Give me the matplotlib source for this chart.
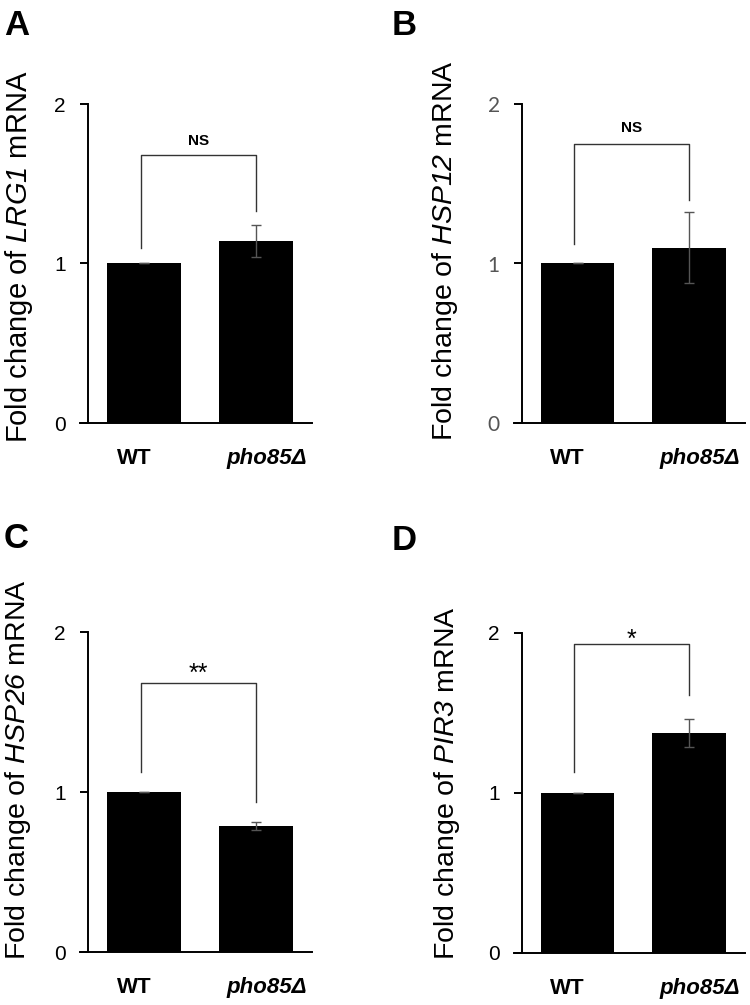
import matplotlib
matplotlib.use("Agg")
import matplotlib.pyplot as plt
import matplotlib.transforms as mtransforms

plt.rcParams['font.family'] = ['Liberation Sans', 'DejaVu Sans']
plt.rcParams['mathtext.fontset'] = 'custom'
plt.rcParams['mathtext.rm'] = 'Liberation Sans:italic'
plt.rcParams['mathtext.it'] = 'Liberation Sans:italic'
plt.rcParams['mathtext.bf'] = 'Liberation Sans:bold'

# ---- data ----
categories = ['WT', 'pho85Δ']
panel_letters = ['A', 'B', 'C', 'D']
genes = ['LRG1', 'HSP12', 'HSP26', 'PIR3']
wt_values = [1.0, 1.0, 1.0, 1.0]
wt_errors = [0.0, 0.0, 0.0, 0.0]
mut_values = [1.14, 1.10, 0.79, 1.375]
mut_errors = [0.10, 0.225, 0.025, 0.085]
signif_labels = ['NS', 'NS', '**', '*']
bracket_heights = [1.68, 1.75, 1.68, 1.93]
bracket_wt_bottom = [1.10, 1.125, 1.125, 1.13]
bracket_mut_bottom = [1.33, 1.40, 0.94, 1.61]
signif_y = [1.77, 1.85, 1.74, 1.96]
yticks = [0, 1, 2]
ytick_labels = ['0', '1', '2']

W, H = 750, 1005
fig = plt.figure(figsize=(W / 100, H / 100), dpi=100)

# axes boxes in pixels: left, top, right, bottom
boxes = [(80, 104, 312, 423), (514, 104, 745, 423),
         (80, 632, 312, 952), (514, 633, 745, 953)]
letter_pos = [(4, 9), (392, 9), (4, 522), (392, 524)]
label_x = [-0.196, -0.233, -0.202, -0.225]
label_y = [0.52, 0.54, 0.57, 0.53]
label_size = [21, 20.5, 20.5, 20.5]

for i in range(4):
    l, t, r, b = boxes[i]
    ax = fig.add_axes([l / W, 1 - b / H, (r - l) / W, (b - t) / H])
    x = [0, 1]
    vals = [wt_values[i], mut_values[i]]
    errs = [wt_errors[i], mut_errors[i]]
    ax.bar(x, vals, width=0.66, color='black', zorder=2)
    ax.errorbar(x, vals, yerr=errs, fmt='none', ecolor='#555555',
                elinewidth=1.0, capsize=3.8, capthick=1.0, zorder=3)
    ax.set_xlim(-0.571, 1.5)
    ax.set_ylim(0, 2)
    for s in ['top', 'right']:
        ax.spines[s].set_visible(False)
    ax.spines['left'].set_position(('data', -0.5))
    ax.spines['left'].set_linewidth(1.4)
    ax.spines['bottom'].set_linewidth(1.4)
    ax.set_yticks(yticks)
    ax.set_yticklabels(ytick_labels)
    tick_color = '#555555' if i == 1 else 'black'
    tick_family = 'Lato' if i == 1 else 'Liberation Sans'
    ax.tick_params(axis='y', direction='out', length=6, width=1.4,
                   labelsize=15, pad=10, labelcolor=tick_color)
    for lab in ax.get_yticklabels():
        lab.set_family(tick_family)
    ax.set_xticks(x)
    ax.set_xticklabels(categories)
    ax.tick_params(axis='x', length=0, pad=18, labelsize=16)
    tl = ax.get_xticklabels()
    tl[0].set_fontweight('bold')
    tl[1].set_fontweight('bold')
    tl[1].set_fontstyle('italic')
    tl[0].set_transform(tl[0].get_transform() +
                        mtransforms.ScaledTranslation(-10 / 100, 0, fig.dpi_scale_trans))
    tl[1].set_transform(tl[1].get_transform() +
                        mtransforms.ScaledTranslation(11 / 100, 0, fig.dpi_scale_trans))

    ax.set_ylabel('Fold change of $\\mathrm{' + genes[i] + '}$ mRNA',
                  fontsize=label_size[i])
    ax.yaxis.set_label_coords(label_x[i], label_y[i])

    # significance bracket
    bh = bracket_heights[i]
    ax.plot([-0.03, -0.03, 1.0, 1.0],
            [bracket_wt_bottom[i], bh, bh, bracket_mut_bottom[i]],
            color='#333333', lw=1.0, clip_on=False, zorder=4)
    sl = signif_labels[i]
    if sl == 'NS':
        ax.text(0.485, signif_y[i], sl, ha='center', va='center',
                fontsize=11, fontweight='bold', clip_on=False)
    else:
        ax.text(0.485, signif_y[i], sl, ha='center', va='center',
                fontsize=18, clip_on=False)

    lx, ly = letter_pos[i]
    fig.text(lx / W, 1 - ly / H, panel_letters[i], fontsize=25,
             fontweight='bold', ha='left', va='top')

fig.savefig('out.png', dpi=100)
